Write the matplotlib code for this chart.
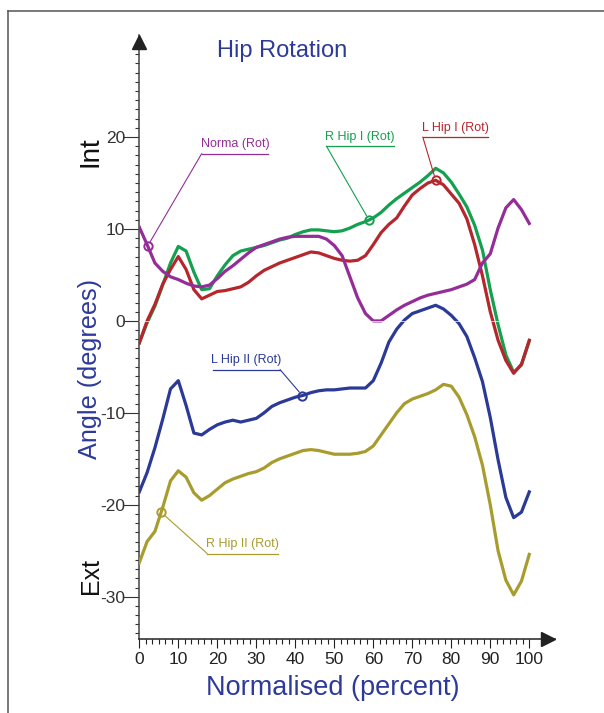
import numpy as np
import matplotlib
matplotlib.use("Agg")
import matplotlib.pyplot as plt
from matplotlib.lines import Line2D
from matplotlib.ticker import FixedLocator

plt.rcParams["font.family"] = ["Liberation Sans", "DejaVu Sans"]
plt.rcParams["axes.unicode_minus"] = False

# gait cycle, sampled every 2 %
PCT = np.arange(0, 101, 2)

NORMA = [10.2, 8.3, 6.3, 5.4, 4.8, 4.5, 4.1, 3.8, 3.7, 3.9,
         4.6, 5.4, 6.0, 6.7, 7.4, 8.0, 8.3, 8.6, 8.9, 9.1,
         9.2, 9.2, 9.2, 9.2, 8.9, 8.2, 7.1, 4.8, 2.5, 0.8,
         0.0, 0.0, 0.6, 1.2, 1.7, 2.1, 2.5, 2.8, 3.0, 3.2,
         3.4, 3.7, 4.0, 4.5, 6.3, 7.3, 10.1, 12.3, 13.2, 12.1, 10.6]
R_HIP_I = [-2.4, -0.2, 1.6, 3.9, 6.3, 8.1, 7.6, 5.3, 3.4, 3.5,
           4.9, 6.1, 7.1, 7.6, 7.8, 8.0, 8.2, 8.5, 8.8, 9.0,
           9.4, 9.7, 9.9, 9.9, 9.8, 9.7, 9.8, 10.1, 10.5, 10.8,
           11.2, 11.8, 12.6, 13.3, 13.9, 14.5, 15.1, 15.8, 16.6, 16.1,
           15.1, 13.8, 12.4, 10.4, 7.7, 3.4, -0.4, -3.7, -5.6, -4.8, -2.2]
L_HIP_I = [-2.4, 0.0, 1.8, 4.0, 5.6, 7.0, 5.6, 3.4, 2.4, 2.8,
           3.2, 3.3, 3.5, 3.7, 4.2, 4.9, 5.5, 5.9, 6.3, 6.6,
           6.9, 7.2, 7.5, 7.4, 7.1, 6.8, 6.6, 6.5, 6.6, 7.1,
           8.3, 9.6, 10.5, 11.2, 12.5, 13.7, 14.4, 15.0, 15.3, 14.8,
           13.8, 12.8, 11.1, 8.3, 4.9, 1.0, -2.1, -4.3, -5.7, -4.7, -2.1]
L_HIP_II = [-18.6, -16.5, -13.8, -10.7, -7.4, -6.5, -9.2, -12.2, -12.4, -11.8,
            -11.3, -11.0, -10.8, -11.0, -10.8, -10.6, -10.0, -9.3, -8.9, -8.6,
            -8.3, -8.1, -7.8, -7.6, -7.5, -7.5, -7.4, -7.3, -7.3, -7.3,
            -6.5, -4.6, -2.3, -0.9, 0.1, 0.8, 1.1, 1.4, 1.7, 1.3,
            0.6, -0.3, -1.7, -4.0, -6.6, -10.5, -15.1, -19.2, -21.4, -20.8, -18.6]
R_HIP_II = [-26.3, -24.0, -22.9, -20.3, -17.4, -16.3, -17.0, -18.7, -19.5, -19.0,
            -18.3, -17.6, -17.2, -16.9, -16.6, -16.4, -16.0, -15.4, -15.0, -14.7,
            -14.4, -14.1, -14.0, -14.1, -14.3, -14.5, -14.5, -14.5, -14.4, -14.2,
            -13.6, -12.4, -11.2, -10.0, -9.0, -8.5, -8.2, -7.9, -7.5, -6.9,
            -7.1, -8.3, -10.2, -12.6, -15.7, -20.0, -25.0, -28.2, -29.8, -28.3, -25.4]

PURPLE = "#952d98"
GREEN = "#14a04f"
RED = "#b5272d"
BLUE = "#2b3a97"
OLIVE = "#a89c2e"
TITLE_BLUE = "#2e3a9a"

# (label, values, colour, marker x, underline x0, x1, y, leader from left end?)
SERIES = [
    ("R Hip II (Rot)", R_HIP_II, OLIVE, 5.6, 17.4, 35.5, -25.3, True),
    ("L Hip II (Rot)", L_HIP_II, BLUE, 41.8, 18.8, 36.1, -5.3, False),
    ("R Hip I (Rot)", R_HIP_I, GREEN, 58.9, 48.0, 65.3, 19.0, True),
    ("L Hip I (Rot)", L_HIP_I, RED, 76.0, 72.7, 89.5, 20.0, True),
    ("Norma (Rot)", NORMA, PURPLE, 2.15, 16.0, 33.0, 18.2, True),
]

W, H = 604, 713


def px(x, y):
    # pixel position -> figure fraction
    return x / W, 1 - y / H


def main():
    fig = plt.figure(figsize=(W / 100, H / 100), dpi=100)
    ax = fig.add_axes([139.3 / W, (H - 639) / H, (555 - 139.3) / W, (639 - 35) / H])
    ax.set_xlim(0, 106.6)
    ax.set_ylim(-34.6, 31.1)

    for s in ("top", "right"):
        ax.spines[s].set_visible(False)
    ax.spines["left"].set_color("#444444")
    ax.spines["bottom"].set_color("#222222")
    ax.spines["left"].set_linewidth(1.1)
    ax.spines["bottom"].set_linewidth(1.1)

    # axis arrow heads
    ax.plot([0], [30.3], marker="^", ms=10, color="#222222", clip_on=False, zorder=5)
    ax.plot([104.9], [-34.6], marker=">", ms=10, color="#222222", clip_on=False, zorder=5)

    ax.xaxis.set_major_locator(FixedLocator(np.arange(0, 101, 10)))
    ax.xaxis.set_minor_locator(FixedLocator(np.linspace(0, 100, 61)))
    ax.yaxis.set_major_locator(FixedLocator(np.arange(-30, 21, 10)))
    ax.yaxis.set_minor_locator(FixedLocator(np.arange(-34, 30, 1)))
    ax.tick_params(axis="x", which="major", length=6.5, width=0.8, pad=3,
                   labelsize=12.5, colors="#222222")
    ax.tick_params(axis="x", which="minor", length=3.6, width=0.8, colors="#222222")
    ax.tick_params(axis="y", which="major", length=11.5, width=0.8, pad=-1.5,
                   labelsize=12.5, colors="#333333")
    ax.tick_params(axis="y", which="minor", length=2.9, width=0.8, colors="#333333")

    for label, vals, color, mx, ux0, ux1, uy, left in SERIES:
        ax.plot(PCT, vals, color=color, lw=2.3, solid_joinstyle="round", zorder=3)

    ax.axhline(0, color="white", lw=0.6, alpha=0.8, zorder=4)

    for label, vals, color, mx, ux0, ux1, uy, left in SERIES:
        my = np.interp(mx, PCT, vals)
        ax.plot([mx], [my], marker="o", ms=6, mfc="none", mec=color, mew=1.4, zorder=6)
        ax.plot([ux0, ux1], [uy, uy], color=color, lw=0.9, zorder=6)
        start = (ux0, uy) if left else (ux1, uy)
        ax.annotate("", xy=(mx, my), xytext=start,
                    arrowprops=dict(arrowstyle="-", color=color, lw=0.8,
                                    shrinkA=0, shrinkB=3.5), zorder=6)
        ax.annotate(label, xy=((ux0 + ux1) / 2, uy), xytext=(0, 2.5),
                    textcoords="offset points", ha="center", va="bottom",
                    fontsize=9, color=color, zorder=6)

    # outer frame, only its top and left edges fall inside the image
    fig.add_artist(Line2D([8 / W, 1], [1 - 11 / H] * 2, color="#555555", lw=1.1))
    fig.add_artist(Line2D([8 / W] * 2, [0, 1 - 11 / H], color="#555555", lw=1.1))

    fig.text(*px(282.5, 56.7), "Hip Rotation", ha="center", va="baseline",
             fontsize=17, color=TITLE_BLUE)
    fig.text(*px(333, 695), "Normalised (percent)", ha="center", va="baseline",
             fontsize=19.5, color=TITLE_BLUE)
    fig.text(*px(97, 368.5), "Angle (degrees)", rotation=90, rotation_mode="anchor",
             ha="center", va="baseline", fontsize=18.2, color=TITLE_BLUE)
    fig.text(*px(98, 152), "Int", rotation=90, rotation_mode="anchor",
             ha="center", va="baseline", fontsize=20, color="#111111")
    fig.text(*px(98, 576.5), "Ext", rotation=90, rotation_mode="anchor",
             ha="center", va="baseline", fontsize=18, color="#111111")

    fig.savefig("out.png", dpi=100)
    plt.close(fig)


if __name__ == "__main__":
    main()
